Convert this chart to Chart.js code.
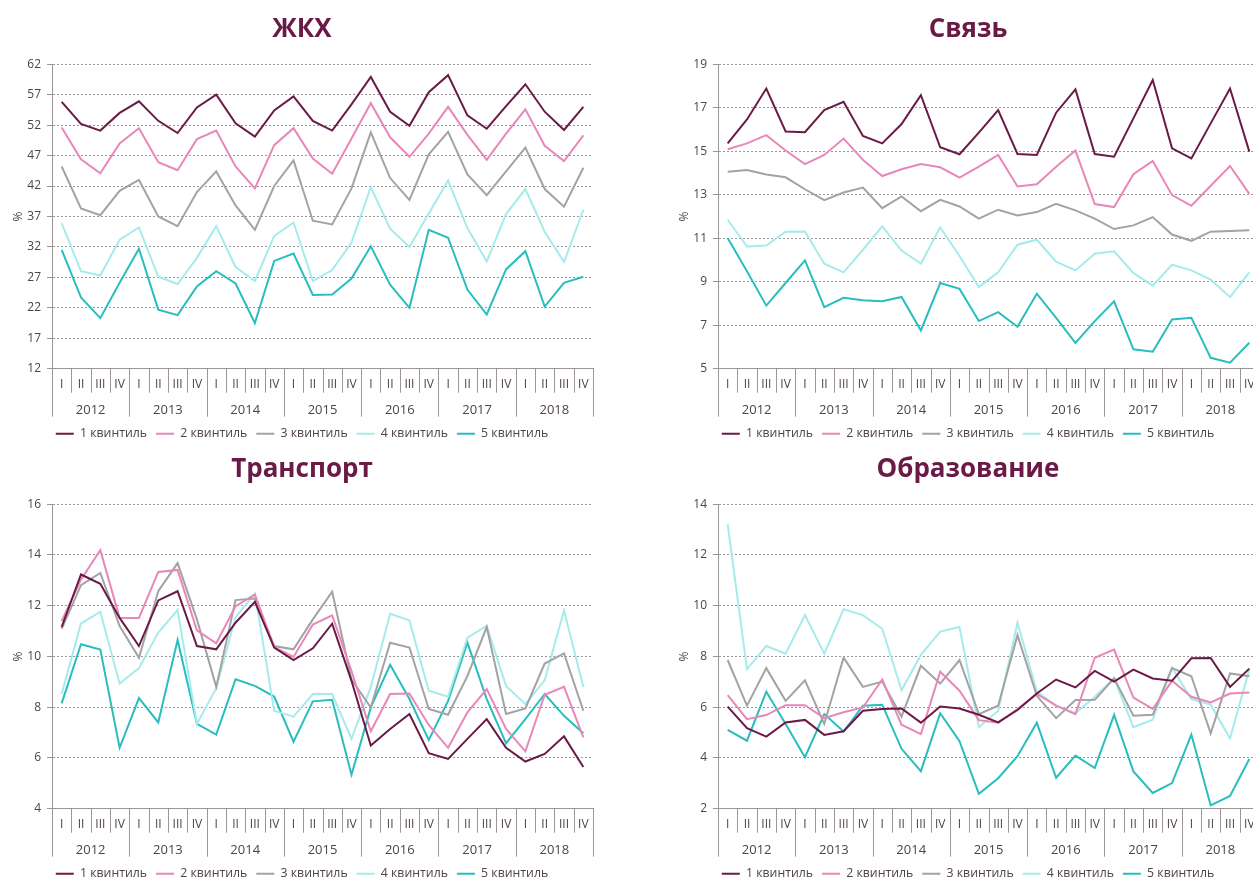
<!DOCTYPE html>
<html lang="ru">
<head>
<meta charset="utf-8">
<title>Расходы по квинтилям</title>
<script src="https://cdn.jsdelivr.net/npm/chart.js@4.4.1/dist/chart.umd.min.js"></script>
<style>
  html, body { margin: 0; padding: 0; background: #fff; overflow: hidden; }
  .panel { position: absolute; width: 600px; height: 450px; }
</style>
</head>
<body>
<div class="panel" style="left:0;top:0"><canvas id="chartZhkh" width="600" height="450"></canvas></div>
<div class="panel" style="left:666px;top:0"><canvas id="chartSvyaz" width="600" height="450"></canvas></div>
<div class="panel" style="left:0;top:440px"><canvas id="chartTransport" width="600" height="450"></canvas></div>
<div class="panel" style="left:666px;top:440px"><canvas id="chartObraz" width="600" height="450"></canvas></div>
<script>
const quarters = ['I', 'II', 'III', 'IV', 'I', 'II', 'III', 'IV', 'I', 'II', 'III', 'IV', 'I', 'II',
                  'III', 'IV', 'I', 'II', 'III', 'IV', 'I', 'II', 'III', 'IV', 'I', 'II', 'III', 'IV'];
const years = ['2012', '2013', '2014', '2015', '2016', '2017', '2018'];

const quintileNames = ['1 квинтиль', '2 квинтиль', '3 квинтиль', '4 квинтиль', '5 квинтиль'];
const quintileColors = ['#6b1a47', '#e887ba', '#a3a3a3', '#a6ebeb', '#2abdbd'];

// ЖКХ, % расходов
const zhkh1 = [55.8, 52.2, 51.1, 54.0, 55.9, 52.7, 50.7, 54.9, 57.0, 52.3, 50.1, 54.4, 56.7, 52.7,
               51.1, 55.4, 59.9, 54.2, 51.9, 57.4, 60.2, 53.6, 51.4, 55.1, 58.7, 54.2, 51.2, 55.0];
const zhkh2 = [51.6, 46.4, 44.1, 49.0, 51.5, 45.9, 44.6, 49.7, 51.1, 45.2, 41.6, 48.7, 51.5, 46.5,
               44.0, 49.8, 55.6, 50.0, 46.8, 50.6, 55.0, 50.4, 46.3, 50.6, 54.6, 48.6, 46.1, 50.3];
const zhkh3 = [45.2, 38.3, 37.2, 41.2, 43.0, 37.0, 35.4, 41.0, 44.4, 38.8, 34.8, 42.0, 46.2, 36.3,
               35.7, 41.6, 50.8, 43.3, 39.7, 47.2, 50.9, 43.9, 40.5, 44.4, 48.3, 41.5, 38.6, 45.0];
const zhkh4 = [35.9, 28.0, 27.3, 33.2, 35.2, 27.1, 25.9, 30.2, 35.4, 28.7, 26.4, 33.8, 36.0, 26.4,
               28.2, 32.7, 41.8, 35.0, 32.0, 37.5, 42.9, 35.1, 29.6, 37.4, 41.5, 34.5, 29.5, 38.1];
const zhkh5 = [31.5, 23.7, 20.3, 26.1, 31.7, 21.7, 20.8, 25.5, 28.0, 26.0, 19.5, 29.7, 30.9, 24.1,
               24.2, 26.8, 32.1, 25.8, 22.0, 34.8, 33.5, 25.0, 20.9, 28.3, 31.3, 22.2, 26.1, 27.1];

// Связь
const svyaz1 = [15.36, 16.46, 17.88, 15.91, 15.87, 16.89, 17.27, 15.70, 15.36, 16.25, 17.58, 15.18, 14.86, 15.85,
                16.89, 14.87, 14.83, 16.77, 17.84, 14.87, 14.75, 16.51, 18.27, 15.13, 14.67, 16.28, 17.88, 14.98];
const svyaz2 = [15.09, 15.36, 15.74, 15.03, 14.41, 14.83, 15.58, 14.60, 13.86, 14.17, 14.41, 14.26, 13.79, 14.29,
                14.83, 13.38, 13.48, 14.29, 15.03, 12.57, 12.43, 13.94, 14.55, 12.98, 12.49, 13.41, 14.32, 13.04];
const svyaz3 = [14.05, 14.14, 13.93, 13.80, 13.25, 12.75, 13.10, 13.33, 12.38, 12.92, 12.24, 12.76, 12.46, 11.90,
                12.31, 12.05, 12.20, 12.58, 12.28, 11.90, 11.42, 11.59, 11.97, 11.17, 10.88, 11.30, 11.33, 11.37];
const svyaz4 = [11.85, 10.62, 10.66, 11.30, 11.31, 9.83, 9.43, 10.47, 11.54, 10.43, 9.83, 11.50, 10.18, 8.76,
                9.43, 10.70, 10.93, 9.92, 9.52, 10.29, 10.40, 9.40, 8.82, 9.78, 9.52, 9.10, 8.29, 9.43];
const svyaz5 = [11.01, 9.48, 7.90, 8.94, 9.98, 7.83, 8.26, 8.15, 8.10, 8.30, 6.76, 8.94, 8.67, 7.19,
                7.60, 6.93, 8.45, 7.34, 6.19, 7.19, 8.10, 5.89, 5.78, 7.26, 7.34, 5.50, 5.28, 6.19];

// Транспорт
const transport1 = [11.16, 13.23, 12.86, 11.52, 10.41, 12.21, 12.57, 10.41, 10.28, 11.33, 12.15, 10.35, 9.86, 10.32,
                    11.29, 9.04, 6.49, 7.14, 7.73, 6.19, 5.96, 6.75, 7.53, 6.40, 5.86, 6.16, 6.85, 5.64];
const transport2 = [11.39, 13.03, 14.19, 11.52, 11.52, 13.33, 13.41, 11.03, 10.52, 11.98, 12.44, 10.37, 9.98, 11.26,
                    11.62, 9.43, 7.05, 8.52, 8.54, 7.30, 6.40, 7.80, 8.71, 7.14, 6.26, 8.49, 8.80, 6.81];
const transport3 = [11.09, 12.81, 13.29, 11.20, 9.95, 12.57, 13.68, 11.46, 8.80, 12.22, 12.28, 10.41, 10.28, 11.46,
                    12.55, 9.10, 7.99, 10.54, 10.35, 7.93, 7.70, 9.23, 11.16, 7.73, 7.95, 9.72, 10.12, 7.86];
const transport4 = [8.52, 11.30, 11.76, 8.93, 9.54, 10.94, 11.83, 7.34, 8.75, 11.55, 12.48, 7.86, 7.63, 8.52,
                    8.52, 6.75, 8.80, 11.68, 11.42, 8.65, 8.41, 10.74, 11.20, 8.84, 8.12, 9.06, 11.81, 8.80];
const transport5 = [8.15, 10.48, 10.27, 6.40, 8.36, 7.40, 10.65, 7.34, 6.92, 9.10, 8.84, 8.42, 6.64, 8.23,
                    8.29, 5.34, 7.99, 9.67, 8.32, 6.71, 8.25, 10.54, 8.32, 6.58, 7.53, 8.52, 7.66, 6.97];

// Образование
const obraz1 = [6.02, 5.17, 4.84, 5.40, 5.50, 4.91, 5.05, 5.86, 5.93, 5.95, 5.39, 6.03, 5.95, 5.70,
                5.40, 5.89, 6.54, 7.09, 6.78, 7.43, 7.01, 7.48, 7.13, 7.04, 7.93, 7.94, 6.80, 7.52];
const obraz2 = [6.48, 5.53, 5.69, 6.08, 6.08, 5.57, 5.80, 5.99, 7.09, 5.31, 4.94, 7.40, 6.65, 5.49,
                5.39, 5.93, 6.52, 6.06, 5.73, 7.95, 8.27, 6.38, 5.93, 7.04, 6.41, 6.19, 6.54, 6.58];
const obraz3 = [7.86, 6.06, 7.54, 6.25, 7.06, 5.34, 7.95, 6.80, 7.01, 5.63, 7.63, 6.93, 7.86, 5.73,
                6.06, 8.84, 6.45, 5.57, 6.28, 6.29, 7.14, 5.66, 5.70, 7.54, 7.22, 4.97, 7.33, 7.22];
const obraz4 = [13.21, 7.50, 8.41, 8.11, 9.63, 8.11, 9.86, 9.63, 9.09, 6.67, 8.06, 8.98, 9.16, 5.21,
                5.86, 9.33, 6.62, 6.06, 5.76, 6.41, 7.14, 5.21, 5.51, 7.56, 6.32, 6.10, 4.77, 7.50];
const obraz5 = [5.11, 4.68, 6.61, 5.34, 4.03, 5.73, 5.04, 6.06, 6.10, 4.36, 3.48, 5.76, 4.66, 2.59,
                3.20, 4.07, 5.39, 3.22, 4.09, 3.60, 5.70, 3.47, 2.62, 3.01, 4.92, 2.13, 2.50, 3.96];

const fontFamily = '"Open Sans", "DejaVu Sans", sans-serif';
const textColor = '#4f4343';
const axisColor = '#9c9696';

Chart.defaults.font.family = fontFamily;
Chart.defaults.color = textColor;

// вертикальные разделители кварталов и лет под осью X
const separatorsPlugin = {
    id: 'separators',
    afterDraw(chart) {
        const { ctx, chartArea, scales } = chart;
        const top = chartArea.bottom;
        ctx.save();
        ctx.strokeStyle = axisColor;
        ctx.lineWidth = 1;
        ctx.beginPath();
        for (let i = 0; i <= quarters.length; i++) {
            const x = Math.round(scales.x.getPixelForValue(i - 0.5)) + 0.5;
            ctx.moveTo(x, top);
            ctx.lineTo(x, top + 24);
        }
        for (let k = 0; k <= years.length; k++) {
            const x = Math.round(scales.x2.getPixelForValue(k - 0.5)) + 0.5;
            ctx.moveTo(x, top);
            ctx.lineTo(x, top + 48);
        }
        ctx.stroke();
        ctx.restore();
    }
};

function makeChart(canvasId, title, series, yMin, yMax, yStep) {
    const ctx = document.getElementById(canvasId).getContext('2d');
    const datasets = series.map((values, i) => ({
        label: quintileNames[i],
        data: values,
        borderColor: quintileColors[i],
        backgroundColor: quintileColors[i],
        borderWidth: 2,
        pointRadius: 0,
        tension: 0
    }));

    return new Chart(ctx, {
        type: 'line',
        data: { labels: quarters, datasets: datasets },
        plugins: [separatorsPlugin],
        options: {
            responsive: false,
            animation: false,
            layout: { padding: { left: 11, right: 7, top: 0, bottom: 0 } },
            plugins: {
                title: {
                    display: true,
                    text: title,
                    color: '#6b1a47',
                    font: { size: 26, weight: 'bold' },
                    padding: { top: 14, bottom: 19 }
                },
                legend: {
                    position: 'bottom',
                    labels: {
                        boxWidth: 18,
                        boxHeight: 2,
                        padding: 9,
                        color: textColor,
                        font: { size: 12.3 },
                        generateLabels: chart => Chart.defaults.plugins.legend.labels.generateLabels(chart)
                            .map(item => Object.assign(item, { lineWidth: 0 }))
                    }
                },
                tooltip: { enabled: false }
            },
            scales: {
                x: {
                    type: 'category',
                    offset: true,
                    afterFit: scale => { scale.height = 24; },
                    grid: { display: false, drawTicks: false },
                    border: { color: axisColor },
                    ticks: { padding: 9, maxRotation: 0, autoSkip: false, font: { size: 12 }, color: textColor }
                },
                x2: {
                    type: 'category',
                    labels: years,
                    position: 'bottom',
                    offset: true,
                    afterFit: scale => { scale.height = 26; },
                    grid: { display: false, drawTicks: false },
                    border: { display: false },
                    ticks: { padding: 9.5, maxRotation: 0, autoSkip: false, font: { size: 13 }, color: textColor }
                },
                y: {
                    min: yMin,
                    max: yMax,
                    afterFit: scale => { scale.width = 41; },
                    title: { display: true, text: '%', color: textColor, font: { size: 12 }, padding: { top: 0, bottom: 0 } },
                    ticks: { stepSize: yStep, padding: 6, font: { size: 12 }, color: textColor },
                    grid: { color: axisColor, tickLength: 5 },
                    border: { color: axisColor, dash: [2, 2] }
                }
            }
        }
    });
}

makeChart('chartZhkh', 'ЖКХ', [zhkh1, zhkh2, zhkh3, zhkh4, zhkh5], 12, 62, 5);
makeChart('chartSvyaz', 'Связь', [svyaz1, svyaz2, svyaz3, svyaz4, svyaz5], 5, 19, 2);
makeChart('chartTransport', 'Транспорт', [transport1, transport2, transport3, transport4, transport5], 4, 16, 2);
makeChart('chartObraz', 'Образование', [obraz1, obraz2, obraz3, obraz4, obraz5], 2, 14, 2);
</script>
</body>
</html>
